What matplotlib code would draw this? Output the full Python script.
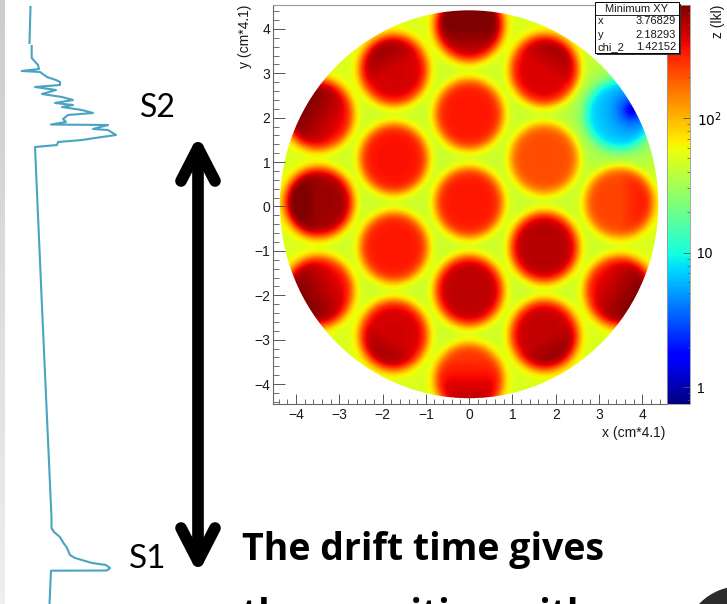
import numpy as np
import matplotlib
matplotlib.use("Agg")
import matplotlib.pyplot as plt
from matplotlib.colors import LogNorm
from matplotlib.patches import Rectangle, Circle
from matplotlib.ticker import MultipleLocator, FixedLocator

W, H = 727, 604
nan = np.nan

# PMT waveform, time runs downward, amplitude to the right
wave_time = [7, 43, 44, 46, 58, 65, 69, 71, 72, 77, 80, 82, 85, 87, 90, 94, 97,
             100, 103, 105, 107, 110, 113, 115, 119, 122, 124.5, 125, 129, 130,
             135, 138, 140, 142, 145, 147, 300, 518, 528, 532, 537, 543, 547,
             555, 558, 563, 565, 568, 570.5, 570.7, 604]
wave_amp = [30.5, 29.5, nan, 31.7, 31.7, 38, 39, 21.7, 40, 47, 56, 60, 60, 35,
            56, 42, 62, 73, 55, 73, 62, 82, 93, 68, 63, 66, 51, 108, 93, 108,
            116, 95, 82, 58, 57, 35, 41.7, 51.5, 51.5, 54, 60, 63.5, 66.5, 70,
            75, 92, 106, 110, 107, 51, 49.5]

# likelihood map: 19 PMTs on a hex grid, log10 of the level seen in each
pmt_x = [-3.47, -3.47, -3.47, -1.74, -1.74, -1.74, -1.74, 0, 0, 0, 0, 0,
         1.74, 1.74, 1.74, 1.74, 3.47, 3.47, 3.47]
pmt_y = [2.07, 0.09, -1.91, 3.08, 1.08, -0.92, -2.90, 4.07, 2.08, 0.09, -1.90,
         -3.88, 3.08, 1.08, -0.92, -2.90, 2.07, 0.09, -1.91]
pmt_logz = [2.58, 2.76, 2.58, 2.62, 2.52, 2.50, 2.62, 2.70, 2.50, 2.50, 2.68,
            2.42, 2.60, 2.33, 2.70, 2.66, 0.88, 2.36, 2.58]
pmt_r = 0.78
bg_logz = 1.62
det_r = 4.37
min_x, min_y, min_chi2 = 3.76829, 2.18293, 1.42152
z_min, z_max = 0.75, 690

x_ticks = [-4, -3, -2, -1, 0, 1, 2, 3, 4]
y_ticks = [-4, -3, -2, -1, 0, 1, 2, 3, 4]

INK = "#1a1a1a"
WAVE = "#4aa3c1"

fig = plt.figure(figsize=(W / 100, H / 100), dpi=100)


def fx(px):
    return px / W


def fy(py):
    return 1 - py / H


# ---- heat map -------------------------------------------------------------
gx = np.linspace(-4.53, 4.57, 500)
gy = np.linspace(-4.45, 4.54, 500)
X, Y = np.meshgrid(gx, gy)
R = np.hypot(X, Y - 0.05)
dmin = np.hypot(X - min_x, Y - min_y)
logz = bg_logz + 0.08 * (R / det_r) ** 4 - 0.35 * np.exp(-dmin ** 2 / 1.5)
i_min = int(np.argmin(pmt_logz))
for i, (px, py, lv) in enumerate(zip(pmt_x, pmt_y, pmt_logz)):
    d = np.hypot(X - px, Y - py)
    m = 1 / (1 + np.exp((d - pmt_r) / 0.075))
    if i == i_min:
        level = lv - 0.85 * np.exp(-dmin / 0.3)
    else:
        level = lv + 0.25 * np.clip((R - 3.5) / 0.87, 0, 1)
    logz = logz + m * (level - logz)
Z = 10 ** logz

cmap = plt.get_cmap("jet").copy()
norm = LogNorm(vmin=z_min, vmax=z_max)

ax = fig.add_axes([fx(273), fy(404), fx(394), 399 / H])
im = ax.imshow(Z, origin="lower", extent=(gx[0], gx[-1], gy[0], gy[-1]),
               cmap=cmap, norm=norm, aspect="auto", interpolation="bilinear")
im.set_clip_path(Circle((0, 0.05), det_r, transform=ax.transData))
ax.set_xlim(gx[0], gx[-1])
ax.set_ylim(gy[0], gy[-1])
ax.xaxis.set_major_locator(FixedLocator(x_ticks))
ax.yaxis.set_major_locator(FixedLocator(y_ticks))
ax.xaxis.set_minor_locator(MultipleLocator(0.2))
ax.yaxis.set_minor_locator(MultipleLocator(0.2))
ax.tick_params(axis="x", which="major", direction="in", length=7.2, width=0.7,
               color="#555555", labelsize=10, pad=3, labelcolor=INK)
ax.tick_params(axis="x", which="minor", direction="in", length=3.6, width=0.6,
               color="#555555")
ax.tick_params(axis="y", which="major", direction="in", length=8.6, width=0.7,
               color="#555555", labelsize=10, pad=2, labelcolor=INK)
ax.tick_params(axis="y", which="minor", direction="in", length=4.3, width=0.6,
               color="#555555")
for lab in ax.get_xticklabels() + ax.get_yticklabels():
    lab.set_fontfamily("Liberation Sans")
for s in ax.spines.values():
    s.set_color("#999999")
    s.set_linewidth(0.8)
ax.spines["left"].set_color("#666666")
ax.spines["bottom"].set_color("#666666")

cax = fig.add_axes([fx(667), fy(404), fx(23), 399 / H])
cb = fig.colorbar(im, cax=cax)
cb.outline.set_edgecolor("#999999")
cb.outline.set_linewidth(0.6)
cax.yaxis.set_major_locator(FixedLocator([1, 10, 100]))
cax.set_yticklabels(["1", "10", r"$10^2$"])
cax.tick_params(which="major", direction="in", length=5, width=0.6,
                color="#555555", labelsize=10, pad=5)
cax.tick_params(which="minor", direction="in", length=2.5, width=0.5,
                color="#555555")
for lab in cax.get_yticklabels():
    lab.set_fontfamily("Liberation Sans")

fig.text(fx(665), fy(433), "x (cm*4.1)", ha="right", va="center",
         fontsize=10, family="Liberation Sans", color=INK)
fig.text(fx(245), fy(5), "y (cm*4.1)", ha="center", va="top", rotation=90,
         fontsize=10, family="Liberation Sans", color=INK)
fig.text(fx(718), fy(5), "z (lkl)", ha="center", va="top", rotation=90,
         fontsize=10, family="Liberation Sans", color=INK)

# ---- waveform -------------------------------------------------------------
wax = fig.add_axes([0, 0, fx(130), 1])
wax.plot(wave_amp, wave_time, color=WAVE, lw=1.5, solid_joinstyle="round")
wax.set_xlim(0, 130)
wax.set_ylim(H, 0)
wax.axis("off")

# ---- slide decorations ----------------------------------------------------
ov = fig.add_axes([0, 0, 1, 1], zorder=5)
ov.patch.set_visible(False)
ov.imshow(np.linspace(0.80, 0.93, 60)[:, None], cmap="gray", vmin=0, vmax=1,
          extent=(0, 5, H, 0), aspect="auto")
ov.add_patch(Circle((740, 642.6), 55.6, color="#2b2b2b"))

# drift arrow
ax_x, top, bot, hw, hl = 198, 148, 561, 17, 33
kw = dict(color="black", lw=8.4, solid_capstyle="round", solid_joinstyle="round")
ov.plot([ax_x, ax_x], [top, bot], **kw)
ov.plot([ax_x - hw, ax_x, ax_x + hw], [top + hl, top, top + hl], **kw)
ov.plot([ax_x - hw, ax_x, ax_x + hw], [bot - hl, bot, bot - hl], **kw)

ov.text(158, 108, "S2", ha="center", va="center", fontsize=23,
        family="Lato", color="black")
ov.text(148, 559, "S1", ha="center", va="center", fontsize=24,
        family="Lato", color="black")
ov.text(242, 560, "The drift time gives", ha="left", va="baseline",
        fontsize=27, family="Open Sans", fontweight="bold", color="black")
ov.text(242, 626, "the z-position with", ha="left", va="baseline",
        fontsize=27, family="Open Sans", fontweight="bold", color="black")

# stats box
ov.add_patch(Rectangle((597, 4), 84, 51, facecolor="#333333", edgecolor="none"))
ov.add_patch(Rectangle((595, 2), 84, 51, facecolor="white", edgecolor="black",
                       lw=0.7))
ov.plot([595, 679], [15, 15], color="black", lw=0.6)
sfont = dict(fontsize=8, family="Liberation Sans", color=INK, va="center")
ov.text(637, 8.5, "Minimum XY", ha="center", **sfont)
for yy, name, val in [(21.5, "x", min_x), (34.5, "y", min_y),
                      (47.5, "chi_2", min_chi2)]:
    ov.text(598, yy, name, ha="left", **sfont)
    ov.text(676, yy, f"{val:.5f}", ha="right", **sfont)

ov.set_xlim(0, W)
ov.set_ylim(H, 0)
ov.axis("off")

fig.savefig("out.png", dpi=100)
